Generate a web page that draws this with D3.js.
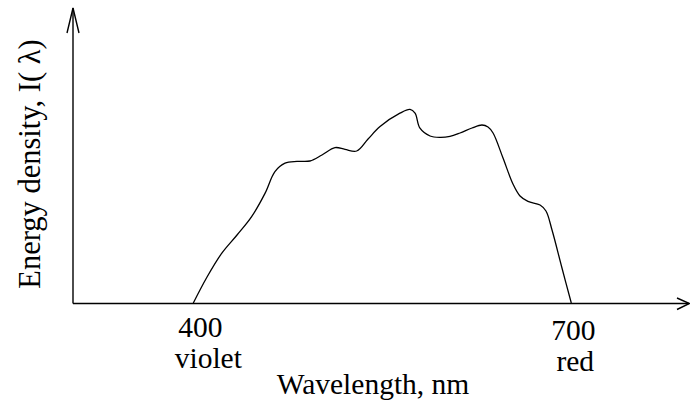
<!DOCTYPE html>
<html>
<head>
<meta charset="utf-8">
<script src="https://cdn.jsdelivr.net/npm/d3@7"></script>
<style>
  html, body { margin: 0; padding: 0; background: #fff; }
  svg { display: block; }
  text { font-family: "Liberation Serif", "Times New Roman", serif; fill: #000; }
</style>
</head>
<body>
<svg id="chart" width="690" height="404"></svg>
<script>
// Sketched spectrum of daylight: wavelength (nm) vs. relative energy density
const wavelength = [400, 410.9, 422.5, 434.7, 446.3, 456.9, 464.8, 472.8, 482.3, 492.6,
  502.1, 512.5, 520.4, 529.7, 538.7, 548.2, 564, 572, 576, 579.9,
  587.9, 595.8, 603.7, 611.7, 621.2, 629.1, 633.9, 637.9, 645.8, 653.7,
  659.3, 665.6, 675.2, 679.9, 684.7, 692.6, 700];
const intensity = [0, 13, 24.8, 34, 43.2, 54.8, 65.7, 69.9, 70.8, 71,
  74, 77.7, 76.8, 76, 82, 88.2, 94.9, 96.8, 94.9, 87.4,
  83.5, 82.8, 83.3, 85, 87.5, 89, 88, 85, 72.5, 59.5,
  53.5, 50.8, 49, 46, 36.5, 17.5, 0];
const tickValues = [400, 700];
const tickNames = ["400", "700"];
const colourNames = ["violet", "red"];
const xTitle = "Wavelength, nm";
const yTitle = "Energy density, I( \u03bb)";

const svg = d3.select("#chart");
const originX = 73, originY = 303.5;

const x = d3.scaleLinear().domain([400, 700]).range([193.3, 571.3]);
const y = d3.scaleLinear().domain([0, 100]).range([303, 103]);

// Axes with open arrowheads
const axes = svg.append("g").attr("stroke", "#000").attr("stroke-width", 1.4).attr("fill", "none");
axes.append("path").attr("d", `M${originX},${originY} H689`);
axes.append("path").attr("d", `M677,298 L689.5,${originY} L677,309.5`);
axes.append("path").attr("d", `M${originX},${originY} V8`);
axes.append("path").attr("d", `M67,33 L${originX},8 L79,33`);

// Spectrum curve
const pts = wavelength.map((w, i) => [w, intensity[i]]);
const line = d3.line()
  .x(d => x(d[0]))
  .y(d => y(d[1]))
  .curve(d3.curveCatmullRom.alpha(0.5));
svg.append("path")
  .datum(pts)
  .attr("d", line)
  .attr("fill", "none")
  .attr("stroke", "#000")
  .attr("stroke-width", 1.3);

// Tick labels: value over colour name
const fs = 29.5;
const numDx = [7, 2];
const nameDx = [15, 4];
const numY = [337, 340];
const nameY = [368, 371];
tickValues.forEach((v, i) => {
  svg.append("text")
    .attr("x", x(v) + numDx[i]).attr("y", numY[i])
    .attr("text-anchor", "middle").attr("font-size", fs)
    .text(tickNames[i]);
  svg.append("text")
    .attr("x", x(v) + nameDx[i]).attr("y", nameY[i])
    .attr("text-anchor", "middle").attr("font-size", fs)
    .text(colourNames[i]);
});

// Axis titles
svg.append("text")
  .attr("x", 373).attr("y", 394)
  .attr("text-anchor", "middle").attr("font-size", fs)
  .text(xTitle);
svg.append("text")
  .attr("transform", "translate(40,164) rotate(-90)")
  .attr("text-anchor", "middle").attr("font-size", 30.5)
  .text(yTitle);
</script>
</body>
</html>
